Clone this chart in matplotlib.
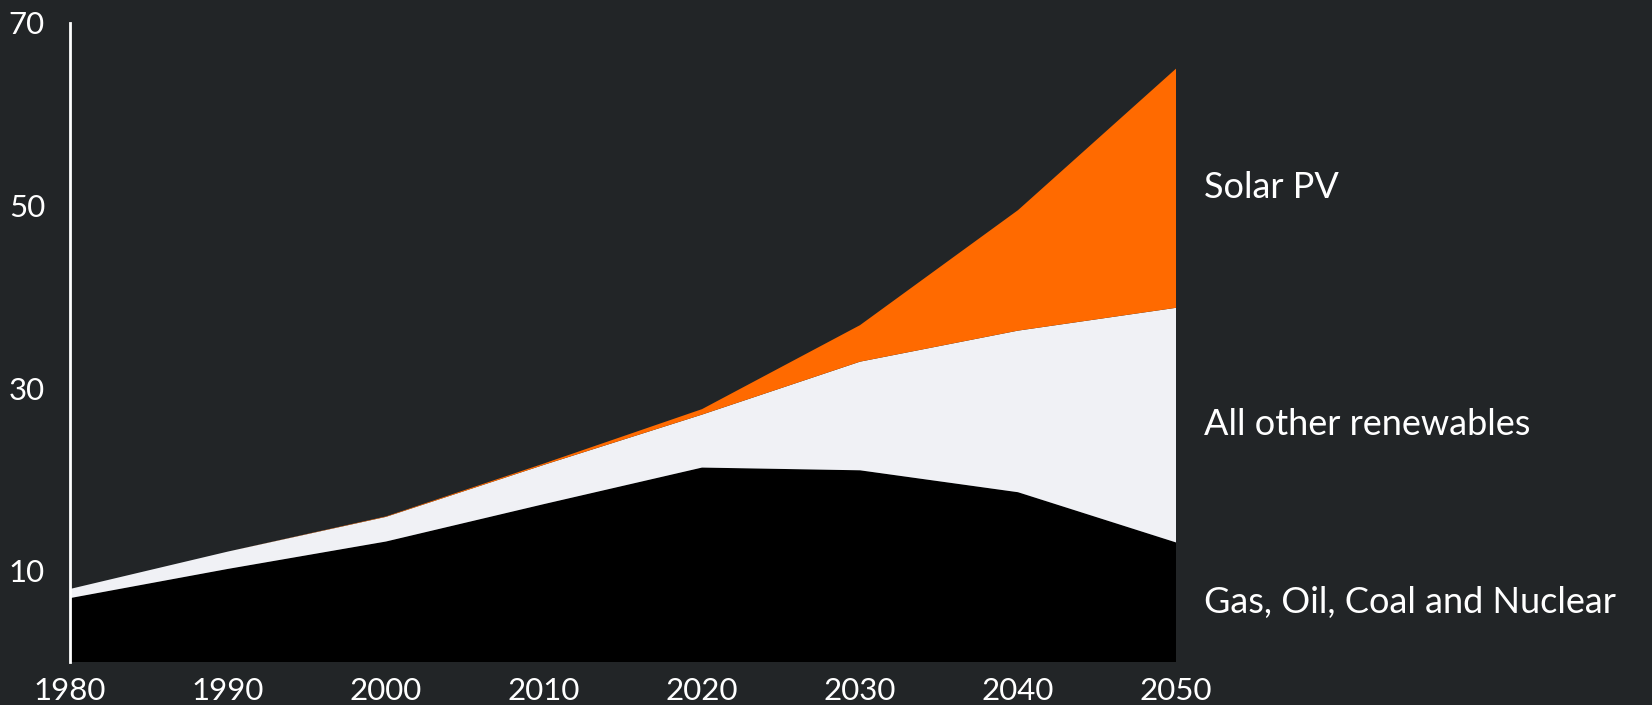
import matplotlib.pyplot as plt

years = [1980, 1990, 2000, 2010, 2020, 2030, 2040, 2050]
fossil = [7.0, 10.2, 13.2, 17.3, 21.3, 21.0, 18.6, 13.1]
other_renewables = [1.0, 1.9, 2.7, 4.3, 5.8, 11.9, 17.7, 25.7]
solar_pv = [0.0, 0.0, 0.05, 0.15, 0.6, 4.0, 13.2, 26.2]

labels = ["Gas, Oil, Coal and Nuclear", "All other renewables", "Solar PV"]
label_y = [6.5, 26.0, 52.0]
yticks = [10, 30, 50, 70]

bg = "#222527"
plt.rcParams['font.family'] = ['Lato', 'DejaVu Sans']

fig = plt.figure(figsize=(16.52, 7.05), dpi=100, facecolor=bg)
ax = fig.add_axes([70 / 1652, 43 / 705, 1106 / 1652, 639 / 705])
ax.set_facecolor(bg)

ax.stackplot(years, fossil, other_renewables, solar_pv,
             colors=["#000000", "#f0f1f5", "#ff6a00"], linewidth=0)

ax.set_xlim(1980, 2050)
ax.set_ylim(0, 70)
ax.set_xticks(years)
ax.set_yticks(yticks)
ax.tick_params(length=0, colors="white", labelsize=22.5)
ax.tick_params(axis="x", pad=10.5)
ax.tick_params(axis="y", pad=18)

for side in ["top", "right", "bottom"]:
    ax.spines[side].set_visible(False)
ax.spines["left"].set_color("white")
ax.spines["left"].set_linewidth(2)

for text, y in zip(labels, label_y):
    ax.text(2051.8, y, text, color="white", fontsize=26, va="center", ha="left",
            clip_on=False)

fig.savefig("out.png", dpi=100, facecolor=bg)
